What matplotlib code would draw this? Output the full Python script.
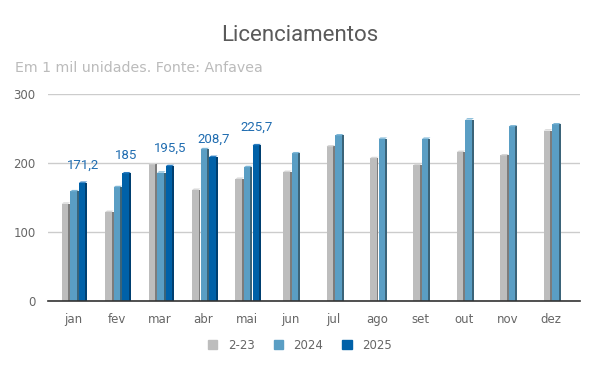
import matplotlib.pyplot as plt
from matplotlib.patches import Polygon
from matplotlib.patches import Patch

meses = ['jan', 'fev', 'mar', 'abr', 'mai', 'jun', 'jul', 'ago', 'set', 'out', 'nov', 'dez']
s2023 = [141, 129, 198, 161, 177, 187, 224, 207, 197, 216, 211, 247]
s2024 = [159, 165, 186, 220, 194, 214, 240, 235, 235, 263, 253, 256]
s2025 = [171.2, 185, 195.5, 208.7, 225.7, None, None, None, None, None, None, None]
rotulos = ['2-23', '2024', '2025']

cores = ['#bdbdbd', '#5a9ec4', '#0061a8']
lados = ['#7c7c7c', '#3b6479', '#003f70']
topos = ['#d6d6d6', '#7db6d6', '#2a7cc0']

fig = plt.figure(figsize=(6, 3.71), dpi=100)
ax = fig.add_axes([0.08, 0.1887, 0.8867, 0.5579])

passo = 0.197
face = 0.15
lado = 0.045
prof = 2.0  # altura do "topo" em unidades de y

series = [s2023, s2024, s2025]
for i in range(len(meses)):
    vals = [s[i] for s in series]
    ativos = [k for k in range(3) if vals[k] is not None]
    n = len(ativos)
    for j, k in enumerate(ativos):
        x0 = i + 0.03 + (j - (n - 1) / 2) * passo - (face + lado) / 2
        v = vals[k]
        ax.bar(x0, v, width=face, align='edge', color=cores[k], linewidth=0, zorder=3)
        ax.bar(x0 + face, v, width=lado, align='edge', color=lados[k], linewidth=0, zorder=3)
        ax.add_patch(Polygon([(x0, v), (x0 + lado, v + prof), (x0 + face + lado, v + prof),
                              (x0 + face, v)], closed=True, color=topos[k], linewidth=0, zorder=3))
        if k == 2:
            txt = ('%g' % v).replace('.', ',')
            ax.annotate(txt, (x0 + (face + lado) / 2, v), xytext=(0, 8), textcoords='offset points',
                        ha='center', va='bottom', fontsize=9.5, color='#1f6cb0', family='Roboto')

ax.set_xlim(-0.58, 11.67)
ax.set_ylim(0, 300)
ax.set_xticks(range(len(meses)))
ax.set_xticklabels(meses)
ax.set_yticks([0, 100, 200, 300])
ax.tick_params(axis='both', length=0, labelsize=8.5, labelcolor='#666666')
ax.tick_params(axis='x', pad=9)
ax.tick_params(axis='y', pad=9)
ax.grid(axis='y', color='#cccccc', linewidth=1, zorder=0)
for s in ['top', 'right', 'left']:
    ax.spines[s].set_visible(False)
ax.spines['bottom'].set_color('#333333')
ax.spines['bottom'].set_linewidth(1.2)
ax.spines['bottom'].set_zorder(4)

fig.text(0.5, 0.905, 'Licenciamentos', ha='center', va='center', fontsize=16,
         color='#5a5a5a', family='Roboto')
fig.text(0.025, 0.817, 'Em 1 mil unidades. Fonte: Anfavea', ha='left', va='center',
         fontsize=10.2, color='#bbbbbb')

handles = [Patch(color=c) for c in cores]
fig.legend(handles, rotulos, loc='center', bbox_to_anchor=(0.5, 0.07), ncol=3, frameon=False,
           fontsize=8.5, labelcolor='#666666', handlelength=0.8, handleheight=0.8,
           columnspacing=1.6, handletextpad=0.9)

plt.savefig('out.png', dpi=100)
